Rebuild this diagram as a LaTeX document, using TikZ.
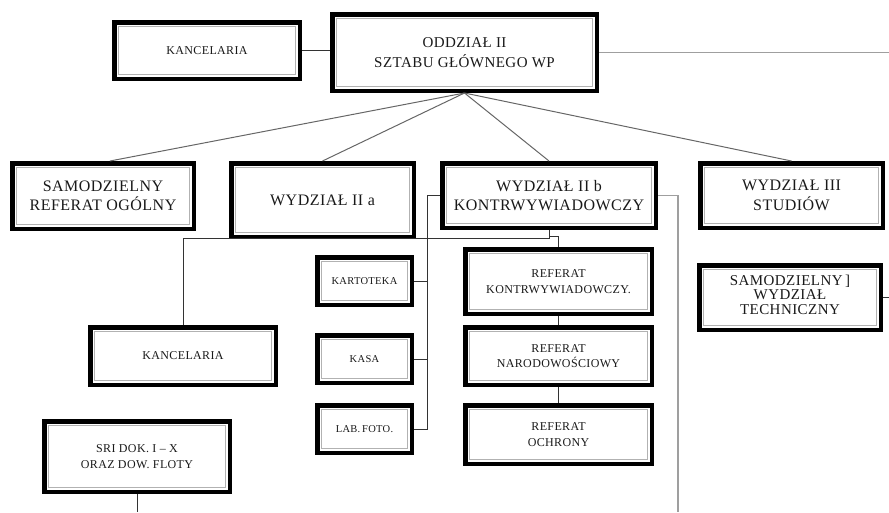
\documentclass[tikz,border=0pt]{standalone}
\usepackage{fontspec}
\setmainfont{Liberation Serif}[LetterSpace=3]
\newcommand\myBig{\fontsize{16}{19.5}\selectfont}
\newcommand\myOdd{\fontsize{15}{20}\selectfont}
\newcommand\mySwt{\fontsize{15}{14.8}\selectfont}
\newcommand\mySmall{\fontsize{12}{15.5}\selectfont}
\newcommand\myTiny{\fontsize{10.5}{12}\selectfont}
\tikzset{
  box/.style={draw=black, line width=4.5pt, align=center, inner sep=1pt, text=black!90},
  innerline/.style={draw=gray!60, line width=1.4pt},
  link/.style={draw=black!80, line width=0.9pt},
  fanline/.style={draw=black!60, line width=1pt},
  greylink/.style={draw=gray!75, line width=1.2pt}
}
\begin{document}
\begin{tikzpicture}[x=1pt,y=-1pt]
\useasboundingbox (0,0) rectangle (889,512);
% boxes
\node[box, font=\mySmall, minimum width=185.5pt, minimum height=56.5pt] (kanc1) at (207,50.5) {KANCELARIA};
\node[box, font=\myOdd, minimum width=264.5pt, minimum height=76.5pt] (odd) at (464.5,52.5) {ODDZIAŁ II\\SZTABU GŁÓWNEGO WP};
\node[box, font=\myBig, minimum width=181.5pt, minimum height=65.5pt] (sro) at (103,196) {SAMODZIELNY\\REFERAT OGÓLNY};
\node[box, font=\myBig, minimum width=182.5pt, minimum height=73.5pt] (w2a) at (322.5,200) {WYDZIAŁ II a};
\node[box, font=\myBig, minimum width=213.5pt, minimum height=64.5pt] (w2b) at (549,195.5) {WYDZIAŁ II b\\KONTRWYWIADOWCZY};
\node[box, font=\myBig, minimum width=182.5pt, minimum height=64.5pt] (w3) at (791.5,195.5) {WYDZIAŁ III\\STUDIÓW};
\node[box, font=\mySwt, minimum width=181.5pt, minimum height=64.5pt] (swt) at (790,297.5) {SAMODZIELNY\,]\\WYDZIAŁ\\TECHNICZNY\\[-9pt]\mbox{}};
\node[box, font=\myTiny, minimum width=94.5pt, minimum height=47.5pt] (kart) at (364.5,281) {KARTOTEKA};
\node[box, font=\myTiny, minimum width=94.5pt, minimum height=47.5pt] (kasa) at (364.5,359) {KASA};
\node[box, font=\myTiny, minimum width=94.5pt, minimum height=47.5pt] (lab) at (364.5,429) {LAB.\,FOTO.};
\node[box, font=\mySmall, minimum width=186.5pt, minimum height=64.5pt] (rkw) at (558.5,281.5) {REFERAT\\KONTRWYWIADOWCZY.};
\node[box, font=\mySmall, minimum width=186.5pt, minimum height=57.5pt] (rn) at (558.5,356) {REFERAT\\NARODOWOŚCIOWY};
\node[box, font=\mySmall, minimum width=186.5pt, minimum height=58.5pt] (ro) at (558.5,434.5) {REFERAT\\OCHRONY};
\node[box, font=\mySmall, minimum width=185.5pt, minimum height=57.5pt] (kanc2) at (183,356) {KANCELARIA};
\node[box, font=\mySmall, minimum width=185.5pt, minimum height=70.5pt] (sri) at (137,456.5) {SRI DOK. I – X\\ORAZ DOW. FLOTY};
% inner lines of the double borders
\foreach \n in {kanc1,odd,sro,w2a,w2b,w3,swt,kart,kasa,lab,rkw,rn,ro,kanc2,sri}
  \draw[innerline] ([shift={(6.3pt,-6.3pt)}]\n.north west) rectangle ([shift={(-6.3pt,6.3pt)}]\n.south east);
% free ends
\coordinate (edgeR) at (889,52);
\coordinate (edgeSwt) at (889,297);
\coordinate (edgeRb) at (678,512);
\coordinate (edgeSri) at (137,512);
% connectors
\draw[link] (kanc1.east) -- (kanc1.east -| odd.west);
\draw[greylink] (odd.east) -- (odd.east -| edgeR);
\draw[fanline] (odd.south) -- ([xshift=7pt]sro.north);
\draw[fanline] (odd.south) -- (w2a.north);
\draw[fanline] (odd.south) -- (w2b.north);
\draw[fanline] (odd.south) -- (w3.north);
\draw[link] (w2b.south) -- ++(0,8) -| (kanc2.north);
\draw[link] ([yshift=-6pt]w2b.south) -| (rkw.north);
\draw[link] (w2b.west) -- ++(-13,0) coordinate (lb) |- (lab.east);
\draw[link] (kart.east) -- (kart.east -| lb);
\draw[link] (kasa.east) -- (kasa.east -| lb);
\draw[greylink] (w2b.east) -| (edgeRb);
\draw[link] (rkw.south) -- (rn.north);
\draw[link] (rn.south) -- (ro.north);
\draw[link] (sri.south) -- (edgeSri);
\draw[link] (swt.east) -- (swt.east -| edgeSwt);
\end{tikzpicture}
\end{document}
